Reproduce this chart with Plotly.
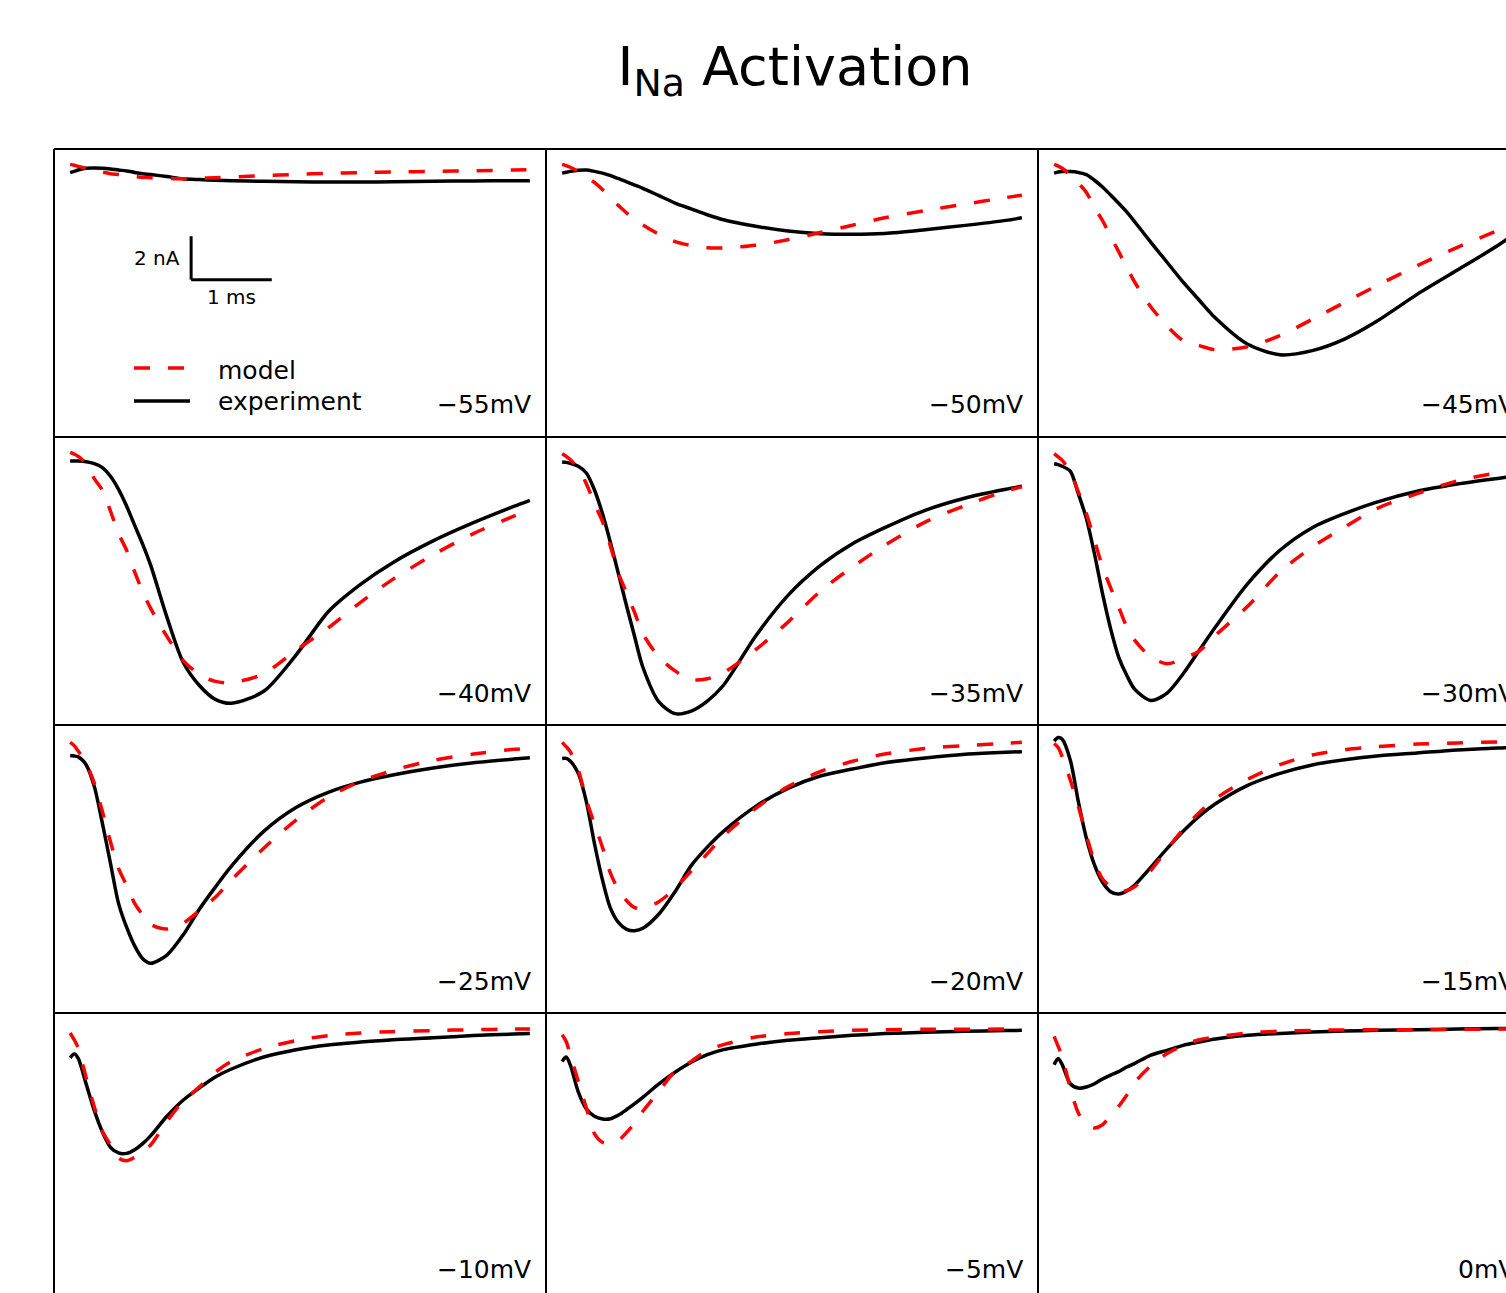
import plotly.graph_objects as go

# ---------------- data (time in ms, current in nA) ----------------
time_ms = [0, 0.05, 0.1, 0.2, 0.3, 0.4, 0.5, 0.6, 0.7, 0.8, 0.9, 1.0, 1.2, 1.4,
           1.6, 1.8, 2.0, 2.4, 2.8, 3.2, 3.6, 4.0, 4.5, 5.0, 5.5, 5.7]

voltage_labels = ["\u221255mV", "\u221250mV", "\u221245mV",
                  "\u221240mV", "\u221235mV", "\u221230mV",
                  "\u221225mV", "\u221220mV", "\u221215mV",
                  "\u221210mV", "\u22125mV", "0mV"]

exp_m55 = [-0.33, -0.28, -0.22, -0.14, -0.13, -0.14, -0.17, -0.22, -0.26, -0.33, -0.39, -0.43, -0.52,
           -0.62, -0.66, -0.69, -0.71, -0.74, -0.76, -0.77, -0.77, -0.76, -0.74, -0.72, -0.71, -0.71]
model_m55 = [0.04, 0.0, -0.05, -0.14, -0.23, -0.31, -0.39, -0.43, -0.48, -0.52, -0.56, -0.57, -0.60,
             -0.62, -0.60, -0.57, -0.54, -0.48, -0.42, -0.37, -0.34, -0.31, -0.28, -0.25, -0.22, -0.20]

exp_m50 = [-0.36, -0.32, -0.28, -0.23, -0.22, -0.28, -0.36, -0.48, -0.62, -0.76, -0.91, -1.06, -1.40,
           -1.74, -2.01, -2.28, -2.51, -2.81, -3.03, -3.15, -3.18, -3.14, -2.97, -2.77, -2.54, -2.42]
model_m50 = [0.04, -0.02, -0.09, -0.29, -0.51, -0.79, -1.12, -1.52, -1.86, -2.20, -2.48, -2.75, -3.18,
             -3.52, -3.70, -3.80, -3.81, -3.69, -3.43, -3.10, -2.76, -2.42, -2.09, -1.79, -1.49, -1.38]

exp_m45 = [-0.36, -0.31, -0.29, -0.29, -0.33, -0.43, -0.69, -1.00, -1.37, -1.75, -2.15, -2.61, -3.55,
           -4.47, -5.39, -6.22, -7.04, -8.25, -8.73, -8.54, -8.01, -7.19, -5.95, -4.83, -3.70, -3.18]
model_m45 = [0.04, -0.04, -0.14, -0.45, -0.82, -1.25, -1.94, -2.55, -3.27, -3.98, -4.70, -5.39, -6.53,
             -7.41, -8.08, -8.31, -8.50, -8.36, -7.85, -7.10, -6.32, -5.55, -4.63, -3.78, -3.01, -2.71]

exp_m40 = [-0.36, -0.36, -0.36, -0.39, -0.48, -0.66, -1.06, -1.66, -2.43, -3.32, -4.20, -5.18, -7.55,
           -9.62, -10.69, -11.34, -11.52, -10.97, -9.30, -7.30, -6.04, -5.04, -4.04, -3.20, -2.45, -2.17]
model_m40 = [0.04, -0.04, -0.14, -0.48, -1.17, -1.71, -2.66, -3.70, -4.47, -5.47, -6.39, -7.16, -8.44,
             -9.54, -10.19, -10.51, -10.57, -10.16, -9.08, -8.05, -6.87, -5.81, -4.68, -3.70, -2.90, -2.62]

exp_m35 = [-0.40, -0.42, -0.46, -0.60, -0.91, -1.68, -2.78, -4.13, -5.58, -7.05, -8.47, -9.85, -11.46,
           -12.0, -11.88, -11.42, -10.69, -8.42, -6.55, -5.18, -4.17, -3.43, -2.63, -2.06, -1.66, -1.52]
model_m35 = [-0.02, -0.14, -0.29, -0.71, -1.40, -2.32, -3.14, -4.29, -5.55, -6.44, -7.35, -8.31, -9.39,
             -10.03, -10.43, -10.39, -10.11, -9.05, -7.78, -6.36, -5.24, -4.24, -3.17, -2.40, -1.74, -1.55]

exp_m30 = [-0.48, -0.52, -0.60, -0.82, -1.86, -3.01, -4.63, -6.47, -8.08, -9.39, -10.23, -10.88, -11.39,
           -11.05, -10.16, -9.08, -8.01, -6.01, -4.47, -3.43, -2.78, -2.25, -1.75, -1.42, -1.16, -1.06]
model_m30 = [-0.02, -0.17, -0.33, -0.86, -1.78, -2.78, -4.01, -5.24, -6.19, -7.08, -8.00, -8.62, -9.39,
             -9.70, -9.46, -9.11, -8.39, -7.05, -5.47, -4.32, -3.40, -2.55, -1.86, -1.27, -0.90, -0.78]

exp_m25 = [-0.66, -0.68, -0.72, -1.09, -2.09, -3.78, -5.62, -7.47, -8.57, -9.43, -10.02, -10.23, -9.85,
           -8.93, -7.75, -6.72, -5.75, -4.15, -3.05, -2.35, -1.88, -1.55, -1.23, -0.99, -0.82, -0.76]
model_m25 = [-0.05, -0.20, -0.45, -1.02, -1.94, -3.24, -4.63, -5.86, -6.64, -7.47, -8.00, -8.44, -8.65,
             -8.39, -7.81, -7.19, -6.39, -4.93, -3.63, -2.58, -1.85, -1.34, -0.88, -0.59, -0.37, -0.33]

exp_m20 = [-0.79, -0.79, -0.91, -1.48, -2.78, -4.70, -6.39, -7.70, -8.36, -8.67, -8.73, -8.62, -7.96,
           -6.93, -5.73, -4.88, -4.15, -3.00, -2.17, -1.60, -1.28, -0.99, -0.77, -0.60, -0.51, -0.48]
model_m20 = [-0.05, -0.25, -0.48, -1.32, -2.69, -3.81, -4.89, -6.09, -6.85, -7.35, -7.67, -7.70, -7.39,
             -6.78, -5.98, -5.18, -4.37, -3.09, -2.09, -1.40, -0.92, -0.59, -0.33, -0.20, -0.09, -0.05]

exp_m15 = [0.01, 0.17, 0.09, -0.86, -2.78, -4.47, -5.70, -6.50, -6.93, -7.04, -6.90, -6.62, -5.80,
           -4.95, -4.15, -3.45, -2.88, -2.03, -1.48, -1.09, -0.85, -0.68, -0.54, -0.40, -0.31, -0.29]
model_m15 = [-0.10, -0.29, -0.71, -1.78, -3.01, -4.32, -5.55, -6.35, -6.70, -6.88, -6.88, -6.70, -5.95,
             -4.98, -4.05, -3.28, -2.65, -1.75, -1.08, -0.63, -0.39, -0.25, -0.13, -0.08, -0.03, -0.02]

exp_m10 = [-1.32, -1.14, -1.34, -2.54, -3.75, -4.73, -5.44, -5.70, -5.72, -5.55, -5.27, -4.90, -4.01,
           -3.27, -2.71, -2.20, -1.83, -1.28, -0.94, -0.72, -0.59, -0.48, -0.39, -0.29, -0.22, -0.19]
model_m10 = [-0.17, -0.48, -0.86, -2.25, -3.58, -4.70, -5.32, -5.93, -6.06, -5.90, -5.62, -5.32, -4.24,
             -3.32, -2.66, -1.98, -1.48, -0.89, -0.52, -0.29, -0.17, -0.11, -0.06, -0.02, 0.01, 0.01]

exp_m5 = [-1.48, -1.28, -1.63, -2.88, -3.67, -4.01, -4.13, -4.12, -3.95, -3.70, -3.43, -3.14, -2.52,
          -1.98, -1.52, -1.17, -0.94, -0.69, -0.51, -0.39, -0.28, -0.20, -0.14, -0.09, -0.06, -0.05]
model_m5 = [-0.25, -0.56, -1.17, -2.40, -3.63, -4.81, -5.21, -5.27, -5.13, -4.75, -4.32, -3.78, -2.86,
            -1.94, -1.48, -0.97, -0.71, -0.36, -0.20, -0.11, -0.05, -0.02, 0.0, 0.0, 0.01, 0.01]

exp_0 = [-1.63, -1.35, -1.63, -2.51, -2.71, -2.66, -2.51, -2.29, -2.11, -1.95, -1.74, -1.57, -1.19,
         -0.97, -0.74, -0.59, -0.45, -0.28, -0.19, -0.13, -0.08, -0.05, -0.02, 0.01, 0.03, 0.03]
model_0 = [-0.33, -0.79, -1.25, -2.71, -3.86, -4.40, -4.55, -4.40, -3.98, -3.55, -3.04, -2.45, -1.68,
           -1.12, -0.74, -0.48, -0.36, -0.17, -0.09, -0.05, -0.03, -0.02, -0.02, 0.0, 0.01, 0.01]

experiment_traces = [exp_m55, exp_m50, exp_m45, exp_m40, exp_m35, exp_m30,
                     exp_m25, exp_m20, exp_m15, exp_m10, exp_m5, exp_0]
model_traces = [model_m55, model_m50, model_m45, model_m40, model_m35, model_m30,
                model_m25, model_m20, model_m15, model_m10, model_m5, model_0]

# scale bar (in data units of the first panel)
scale_t0, scale_i0 = 1.5, -5.27
scale_dt, scale_di = 1.0, 2.0

# ---------------- layout constants ----------------
W, H = 1506, 1293
PANEL_W, PANEL_H = 492, 288
LEFT0, TOP0 = 54, 149
NCOL, NROW = 3, 4
PX_PER_MS = 80.66
PX_PER_NA = 21.7
T_MIN = -0.2
I_MAX = 0.75
FONT = "DejaVu Sans"
RED = "#ff0000"
LW = 3.5

fig = go.Figure()
layout_axes = {}
annotations = []
shapes = []

for k in range(NCOL * NROW):
    r, c = divmod(k, NCOL)
    left = LEFT0 + c * PANEL_W
    right = min(left + PANEL_W, W)
    top = TOP0 + r * PANEL_H
    bottom = min(top + PANEL_H, H)
    n = k + 1
    xa = "xaxis" if n == 1 else f"xaxis{n}"
    ya = "yaxis" if n == 1 else f"yaxis{n}"
    xr = "x" if n == 1 else f"x{n}"
    yr = "y" if n == 1 else f"y{n}"
    layout_axes[xa] = dict(domain=[left / W, right / W], anchor=yr, visible=False,
                           range=[T_MIN, T_MIN + (right - left) / PX_PER_MS], fixedrange=True)
    layout_axes[ya] = dict(domain=[1 - bottom / H, 1 - top / H], anchor=xr, visible=False,
                           range=[I_MAX - (bottom - top) / PX_PER_NA, I_MAX], fixedrange=True)

    fig.add_trace(go.Scatter(x=time_ms, y=experiment_traces[k], mode="lines",
                             line=dict(color="black", width=LW, shape="spline", smoothing=0.8),
                             name="experiment", legendgroup="experiment", showlegend=False,
                             xaxis=xr, yaxis=yr, hoverinfo="skip"))
    fig.add_trace(go.Scatter(x=time_ms, y=model_traces[k], mode="lines",
                             line=dict(color=RED, width=LW, dash="16px,18px", shape="spline", smoothing=0.8),
                             name="model", legendgroup="model", showlegend=False,
                             xaxis=xr, yaxis=yr, hoverinfo="skip"))

    annotations.append(dict(text=voltage_labels[k], xref="paper", yref="paper",
                            x=(left + 479) / W, y=1 - (top + 256) / H,
                            xanchor="right", yanchor="middle", showarrow=False,
                            font=dict(family=FONT, size=25, color="black")))

# panel grid lines
for c in range(NCOL):
    x = (LEFT0 + c * PANEL_W) / W
    shapes.append(dict(type="line", xref="paper", yref="paper", x0=x, x1=x,
                       y0=1 - TOP0 / H, y1=0, line=dict(color="black", width=2)))
for r in range(NROW):
    y = 1 - (TOP0 + r * PANEL_H) / H
    shapes.append(dict(type="line", xref="paper", yref="paper", x0=LEFT0 / W, x1=1,
                       y0=y, y1=y, line=dict(color="black", width=2)))

# scale bar in first panel
shapes.append(dict(type="line", xref="x", yref="y", x0=scale_t0, x1=scale_t0,
                   y0=scale_i0, y1=scale_i0 + scale_di, line=dict(color="black", width=3)))
shapes.append(dict(type="line", xref="x", yref="y", x0=scale_t0, x1=scale_t0 + scale_dt,
                   y0=scale_i0, y1=scale_i0, line=dict(color="black", width=3)))
annotations.append(dict(text="2 nA", xref="paper", yref="paper", x=182 / W, y=1 - 258 / H,
                        xanchor="right", yanchor="middle", showarrow=False,
                        font=dict(family=FONT, size=20, color="black")))
annotations.append(dict(text="1 ms", xref="paper", yref="paper", x=231.5 / W, y=1 - 297 / H,
                        xanchor="center", yanchor="middle", showarrow=False,
                        font=dict(family=FONT, size=20, color="black")))

# legend (drawn inside the first panel)
shapes.append(dict(type="line", xref="paper", yref="paper", x0=134 / W, x1=188 / W,
                   y0=1 - 368 / H, y1=1 - 368 / H, line=dict(color=RED, width=LW, dash="16px,18px")))
shapes.append(dict(type="line", xref="paper", yref="paper", x0=134 / W, x1=190 / W,
                   y0=1 - 401 / H, y1=1 - 401 / H, line=dict(color="black", width=LW)))
annotations.append(dict(text="model", xref="paper", yref="paper", x=216 / W, y=1 - 370 / H,
                        xanchor="left", yanchor="middle", showarrow=False,
                        font=dict(family=FONT, size=25, color="black")))
annotations.append(dict(text="experiment", xref="paper", yref="paper", x=216 / W, y=1 - 402 / H,
                        xanchor="left", yanchor="middle", showarrow=False,
                        font=dict(family=FONT, size=25, color="black")))

fig.update_layout(
    width=W, height=H,
    margin=dict(l=0, r=0, t=0, b=0),
    paper_bgcolor="white", plot_bgcolor="white",
    showlegend=False,
    title=dict(text="I<sub>Na</sub> Activation", x=795 / W, xanchor="center",
               y=1 - 66 / H, yanchor="middle",
               font=dict(family=FONT, size=54, color="black")),
    annotations=annotations, shapes=shapes,
    **layout_axes,
)

fig.write_html("out.html")
